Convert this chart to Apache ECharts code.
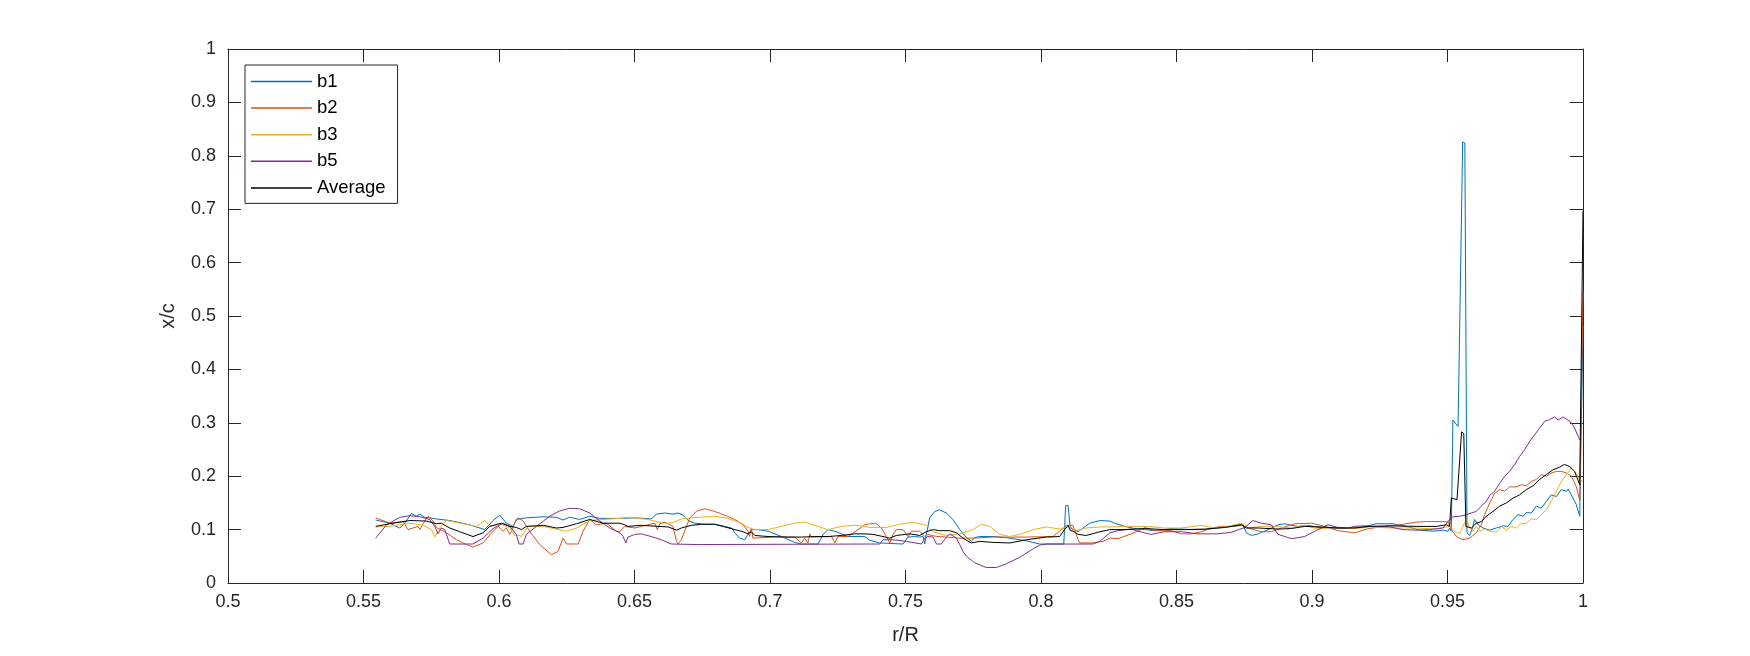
<!DOCTYPE html>
<html>
<head>
<meta charset="utf-8">
<script src="https://cdn.jsdelivr.net/npm/echarts@6/dist/echarts.min.js"></script>
<style>
html,body{margin:0;padding:0;background:#fff;}
#chart{width:1750px;height:656px;}
</style>
</head>
<body>
<div id="chart"></div>
<script>
// ---- data: [r/R, x/c] ----
var seriesNames = ['b1', 'b2', 'b3', 'b5', 'Average'];
var xTicks = [0.5, 0.55, 0.6, 0.65, 0.7, 0.75, 0.8, 0.85, 0.9, 0.95, 1];
var yTicks = [0, 0.1, 0.2, 0.3, 0.4, 0.5, 0.6, 0.7, 0.8, 0.9, 1];

var b1 = [[0.5545,0.118],[0.5597,0.112],[0.5634,0.103],[0.5652,0.112],[0.5677,0.130],[0.5695,0.125],[0.5708,0.129],[0.5726,0.123],[0.5744,0.122],[0.5769,0.120],[0.5818,0.117],[0.5892,0.109],[0.5947,0.100],[0.5978,0.117],[0.6003,0.127],[0.6027,0.112],[0.6052,0.106],[0.6064,0.119],[0.6101,0.122],[0.6163,0.124],[0.6212,0.123],[0.6236,0.118],[0.6261,0.123],[0.6298,0.119],[0.6335,0.125],[0.6372,0.121],[0.6446,0.121],
[0.6501,0.122],[0.6562,0.120],[0.6581,0.129],[0.6612,0.131],[0.6642,0.129],[0.6661,0.131],[0.6679,0.127],[0.6698,0.117],[0.6722,0.112],[0.6759,0.110],[0.6796,0.110],[0.6833,0.106],[0.6858,0.103],[0.6870,0.094],[0.6888,0.084],[0.6907,0.081],[0.6919,0.091],[0.6931,0.100],[0.6956,0.100],[0.6993,0.097],[0.7042,0.087],[0.7091,0.076],[0.7116,0.073],[0.7177,0.073],[0.7196,0.091],[0.7214,0.100],[0.7239,0.097],[0.7263,0.092],[0.7288,0.087],[0.7350,0.087],
[0.7368,0.080],[0.7405,0.075],[0.7491,0.073],[0.7509,0.086],[0.7534,0.087],[0.7552,0.086],[0.7565,0.087],[0.7571,0.073],[0.7577,0.091],[0.7589,0.122],[0.7608,0.134],[0.7626,0.137],[0.7651,0.131],[0.7675,0.119],[0.7700,0.100],[0.7725,0.085],[0.7743,0.078],[0.7755,0.085],[0.7774,0.087],[0.7823,0.087],[0.7872,0.085],[0.7946,0.079],[0.7995,0.073],[0.8084,0.073],[0.8091,0.145],[0.8100,0.145],[0.8108,0.103],[0.8118,0.100],[0.8137,0.096],[0.8155,0.103],[0.8180,0.112],[0.8217,0.117],[0.8254,0.116],
[0.8272,0.112],[0.8309,0.106],[0.8346,0.102],[0.8383,0.100],[0.8420,0.098],[0.8481,0.102],[0.8555,0.100],[0.8604,0.100],[0.8666,0.104],[0.8727,0.107],[0.8745,0.109],[0.8758,0.094],[0.8776,0.089],[0.8801,0.092],[0.8838,0.100],[0.8875,0.109],[0.8899,0.111],[0.8924,0.108],[0.8948,0.106],[0.8985,0.108],[0.9022,0.104],[0.9071,0.103],[0.9121,0.102],[0.9158,0.103],
[0.9188,0.105],[0.9237,0.111],[0.9299,0.111],[0.9348,0.106],[0.9397,0.099],[0.9447,0.097],[0.9483,0.099],[0.9502,0.097],[0.9508,0.103],[0.9514,0.097],[0.9520,0.305],[0.9526,0.306],[0.9539,0.293],[0.9556,0.826],[0.9564,0.824],[0.9572,0.094],[0.9582,0.089],[0.9594,0.106],[0.9600,0.119],[0.9613,0.109],[0.9631,0.103],[0.9656,0.099],[0.9680,0.103],[0.9705,0.107],[0.9723,0.106],[0.9742,0.119],[0.9760,0.128],[0.9779,0.125],[0.9791,0.132],[0.9809,0.131],[0.9828,0.144],[0.9846,0.140],[0.9865,0.153],[0.9883,0.165],[0.9902,0.162],[0.9920,0.175],[0.9939,0.172],[0.9945,0.176],[0.9957,0.165],[0.9975,0.147],[0.9988,0.125],[1.0,0.482]];

var b2 = [[0.5545,0.122],[0.5597,0.112],[0.5646,0.115],[0.5664,0.100],[0.5683,0.103],[0.5701,0.106],[0.5708,0.100],[0.5720,0.111],[0.5738,0.125],[0.5757,0.116],[0.5769,0.104],[0.5806,0.094],[0.5843,0.081],[0.5880,0.072],[0.5904,0.067],[0.5941,0.075],[0.5978,0.097],[0.5997,0.106],[0.6015,0.097],[0.6027,0.103],[0.6040,0.091],[0.6058,0.112],[0.6070,0.122],[0.6089,0.116],[0.6113,0.097],[0.6150,0.072],[0.6193,0.053],[0.6218,0.059],[0.6236,0.084],[0.6249,0.073],[0.6292,0.073],[0.6310,0.097],[0.6335,0.119],[0.6359,0.109],[0.6396,0.112],[0.6433,0.097],[0.6446,0.096],
[0.6464,0.106],[0.6501,0.103],[0.6550,0.109],[0.6575,0.112],[0.6584,0.100],[0.6593,0.111],[0.6612,0.114],[0.6642,0.106],[0.6655,0.078],[0.6661,0.073],[0.6673,0.081],[0.6685,0.097],[0.6704,0.122],[0.6728,0.134],[0.6759,0.139],[0.6796,0.134],[0.6833,0.127],[0.6870,0.119],[0.6901,0.109],[0.6919,0.097],[0.6925,0.087],[0.6931,0.103],[0.6937,0.084],[0.6944,0.086],[0.7017,0.086],[0.7091,0.086],[0.7116,0.075],[0.7128,0.084],[0.7140,0.075],[0.7147,0.092],[0.7153,0.086],[0.7227,0.087],[0.7239,0.075],[0.7251,0.087],[0.7288,0.087],[0.7325,0.100],[0.7350,0.109],
[0.7368,0.111],[0.7393,0.111],[0.7411,0.103],[0.7429,0.087],[0.7442,0.075],[0.7454,0.091],[0.7466,0.100],[0.7491,0.100],[0.7509,0.087],[0.7522,0.097],[0.7552,0.097],[0.7571,0.087],[0.7583,0.091],[0.7595,0.089],[0.7620,0.087],[0.7651,0.086],[0.7700,0.084],[0.7749,0.084],[0.7823,0.086],[0.7946,0.086],[0.8044,0.087],[0.8069,0.097],[0.8094,0.108],[0.8118,0.108],[0.8137,0.081],[0.8143,0.075],[0.8192,0.075],[0.8229,0.078],[0.8254,0.084],
[0.8284,0.083],[0.8333,0.092],[0.8370,0.100],[0.8383,0.104],[0.8420,0.098],[0.8481,0.098],[0.8518,0.092],[0.8555,0.092],[0.8592,0.096],[0.8629,0.103],[0.8666,0.106],[0.8702,0.106],[0.8739,0.111],[0.8764,0.103],[0.8813,0.096],[0.8850,0.096],[0.8887,0.103],[0.8936,0.111],[0.8998,0.112],[0.9047,0.106],[0.9096,0.098],[0.9158,0.094],
[0.9201,0.101],[0.9262,0.106],[0.9324,0.109],[0.9385,0.114],[0.9422,0.115],[0.9483,0.115],[0.9502,0.114],[0.9514,0.100],[0.9533,0.087],[0.9557,0.081],[0.9582,0.084],[0.9606,0.094],[0.9625,0.109],[0.9637,0.128],[0.9656,0.150],[0.9674,0.168],[0.9693,0.175],[0.9711,0.172],[0.9729,0.180],[0.9754,0.180],[0.9773,0.184],[0.9791,0.182],[0.9809,0.190],[0.9828,0.194],[0.9846,0.203],[0.9865,0.200],[0.9883,0.206],[0.9902,0.209],[0.9920,0.209],[0.9939,0.206],[0.9957,0.200],[0.9975,0.181],[0.9988,0.155],[1.0,0.546]];

var b3 = [[0.5545,0.105],[0.5597,0.106],[0.5634,0.109],[0.5671,0.112],[0.5720,0.108],[0.5751,0.100],[0.5763,0.086],[0.5781,0.103],[0.5806,0.117],[0.5867,0.111],[0.5917,0.106],[0.5947,0.117],[0.5966,0.106],[0.6003,0.111],[0.6040,0.103],[0.6058,0.089],[0.6070,0.090],[0.6083,0.087],[0.6107,0.106],[0.6163,0.106],[0.6212,0.101],[0.6249,0.097],[0.6286,0.103],[0.6335,0.117],[0.6384,0.119],[0.6446,0.121],
[0.6476,0.123],[0.6550,0.119],[0.6612,0.111],[0.6648,0.114],[0.6673,0.120],[0.6735,0.123],[0.6796,0.125],[0.6845,0.121],[0.6894,0.112],[0.6919,0.104],[0.6944,0.100],[0.6993,0.100],[0.7042,0.106],[0.7091,0.112],[0.7128,0.114],[0.7177,0.106],[0.7214,0.100],[0.7263,0.106],[0.7313,0.108],[0.7350,0.106],
[0.7368,0.104],[0.7429,0.104],[0.7479,0.110],[0.7528,0.114],[0.7577,0.108],[0.7602,0.096],[0.7651,0.089],[0.7700,0.092],[0.7749,0.100],[0.7780,0.110],[0.7811,0.106],[0.7848,0.091],[0.7885,0.087],[0.7921,0.091],[0.7971,0.100],[0.8020,0.105],[0.8069,0.101],[0.8106,0.106],[0.8130,0.098],[0.8167,0.103],[0.8217,0.105],[0.8254,0.105],
[0.8309,0.106],[0.8395,0.106],[0.8456,0.103],[0.8518,0.103],[0.8592,0.108],[0.8641,0.103],[0.8690,0.106],[0.8739,0.112],[0.8764,0.103],[0.8813,0.106],[0.8862,0.106],[0.8924,0.103],[0.8973,0.108],[0.9022,0.101],[0.9071,0.104],[0.9121,0.103],[0.9158,0.102],
[0.9213,0.105],[0.9287,0.103],[0.9385,0.103],[0.9459,0.101],[0.9508,0.106],[0.9526,0.097],[0.9545,0.092],[0.9557,0.106],[0.9570,0.119],[0.9582,0.103],[0.9594,0.097],[0.9606,0.106],[0.9619,0.097],[0.9637,0.101],[0.9656,0.097],[0.9680,0.095],[0.9699,0.106],[0.9717,0.099],[0.9736,0.106],[0.9754,0.103],[0.9773,0.112],[0.9791,0.111],[0.9809,0.120],[0.9828,0.119],[0.9846,0.128],[0.9865,0.137],[0.9883,0.153],[0.9902,0.172],[0.9920,0.190],[0.9939,0.203],[0.9957,0.215],[0.9969,0.209],[0.9988,0.194],[1.0,0.190]];

var b5 = [[0.5545,0.084],[0.5585,0.109],[0.5634,0.123],[0.5671,0.126],[0.5708,0.124],[0.5744,0.119],[0.5763,0.106],[0.5775,0.092],[0.5787,0.103],[0.5800,0.100],[0.5818,0.073],[0.5904,0.073],[0.5941,0.084],[0.5978,0.102],[0.6015,0.112],[0.6040,0.106],[0.6064,0.091],[0.6074,0.073],[0.6089,0.073],[0.6101,0.091],[0.6138,0.106],[0.6187,0.125],[0.6224,0.135],[0.6261,0.140],[0.6298,0.139],[0.6335,0.131],[0.6372,0.116],[0.6409,0.103],[0.6446,0.094],
[0.6458,0.087],[0.6468,0.075],[0.6476,0.086],[0.6501,0.091],[0.6525,0.092],[0.6562,0.087],[0.6599,0.081],[0.6636,0.073],[0.6735,0.072],[0.7350,0.073],
[0.7405,0.073],[0.7417,0.081],[0.7454,0.081],[0.7503,0.078],[0.7559,0.073],[0.7571,0.084],[0.7583,0.087],[0.7602,0.086],[0.7614,0.073],[0.7632,0.073],[0.7651,0.086],[0.7663,0.092],[0.7688,0.084],[0.7700,0.072],[0.7712,0.059],[0.7725,0.050],[0.7755,0.038],[0.7798,0.029],[0.7835,0.029],[0.7872,0.036],[0.7921,0.048],[0.7971,0.064],[0.7995,0.071],[0.8020,0.073],[0.8192,0.073],[0.8217,0.078],[0.8254,0.094],
[0.8284,0.098],[0.8333,0.101],[0.8358,0.097],[0.8407,0.091],[0.8456,0.096],[0.8518,0.096],[0.8579,0.092],[0.8653,0.092],[0.8702,0.095],[0.8752,0.104],[0.8782,0.117],[0.8813,0.112],[0.8850,0.109],[0.8875,0.091],[0.8924,0.083],[0.8973,0.087],[0.9022,0.100],[0.9059,0.109],[0.9096,0.104],[0.9133,0.103],[0.9158,0.106],
[0.9188,0.107],[0.9237,0.106],[0.9287,0.105],[0.9336,0.100],[0.9385,0.099],[0.9434,0.100],[0.9483,0.103],[0.9508,0.119],[0.9520,0.124],[0.9545,0.125],[0.9570,0.128],[0.9588,0.131],[0.9606,0.134],[0.9625,0.144],[0.9643,0.153],[0.9656,0.164],[0.9674,0.172],[0.9693,0.187],[0.9711,0.200],[0.9729,0.209],[0.9748,0.222],[0.9766,0.237],[0.9785,0.250],[0.9803,0.265],[0.9822,0.278],[0.9840,0.290],[0.9859,0.303],[0.9877,0.306],[0.9895,0.311],[0.9908,0.305],[0.9926,0.311],[0.9945,0.305],[0.9957,0.300],[0.9969,0.290],[0.9988,0.268]];

var avg = [[0.5545,0.106],[0.5597,0.111],[0.5671,0.117],[0.5732,0.116],[0.5769,0.111],[0.5787,0.112],[0.5818,0.103],[0.5855,0.096],[0.5904,0.087],[0.5941,0.094],[0.5966,0.106],[0.6009,0.112],[0.6040,0.106],[0.6064,0.104],[0.6083,0.100],[0.6101,0.106],[0.6163,0.108],[0.6212,0.103],[0.6236,0.104],[0.6286,0.111],[0.6335,0.119],[0.6384,0.112],[0.6446,0.112],
[0.6464,0.109],[0.6476,0.106],[0.6525,0.108],[0.6587,0.106],[0.6624,0.105],[0.6655,0.099],[0.6673,0.103],[0.6710,0.108],[0.6747,0.110],[0.6796,0.110],[0.6833,0.105],[0.6870,0.100],[0.6901,0.096],[0.6919,0.092],[0.6931,0.096],[0.6944,0.089],[0.6993,0.087],[0.7067,0.086],[0.7116,0.086],[0.7165,0.087],[0.7214,0.087],[0.7263,0.089],[0.7313,0.092],[0.7350,0.092],
[0.7380,0.091],[0.7417,0.087],[0.7442,0.084],[0.7466,0.089],[0.7516,0.092],[0.7552,0.089],[0.7577,0.096],[0.7602,0.100],[0.7626,0.098],[0.7663,0.098],[0.7688,0.094],[0.7712,0.084],[0.7743,0.075],[0.7774,0.078],[0.7823,0.076],[0.7885,0.075],[0.7946,0.081],[0.8020,0.086],[0.8069,0.087],[0.8087,0.100],[0.8100,0.108],[0.8108,0.098],[0.8118,0.097],[0.8137,0.091],[0.8167,0.089],[0.8217,0.096],[0.8254,0.100],
[0.8309,0.100],[0.8383,0.102],[0.8456,0.100],[0.8530,0.100],[0.8604,0.101],[0.8678,0.104],[0.8739,0.109],[0.8758,0.103],[0.8801,0.103],[0.8875,0.101],[0.8924,0.102],[0.8973,0.106],[0.9035,0.105],[0.9096,0.103],[0.9158,0.103],
[0.9213,0.106],[0.9287,0.107],[0.9385,0.106],[0.9459,0.106],[0.9496,0.109],[0.9508,0.106],[0.9514,0.159],[0.9535,0.156],[0.9552,0.283],[0.9560,0.280],[0.9568,0.106],[0.9588,0.103],[0.9606,0.112],[0.9625,0.115],[0.9643,0.125],[0.9668,0.134],[0.9693,0.144],[0.9717,0.150],[0.9742,0.159],[0.9766,0.165],[0.9791,0.175],[0.9816,0.182],[0.9840,0.194],[0.9865,0.203],[0.9889,0.212],[0.9914,0.217],[0.9932,0.222],[0.9951,0.218],[0.9969,0.209],[0.9988,0.184],[1.0,0.697]];

var seriesData = [b1, b2, b3, b5, avg];
var colors = ['#0072BD', '#D95319', '#EDB120', '#7E2F8E', '#000000'];

// ---- chart ----
var FONT = '"Liberation Sans", Arial, Helvetica, sans-serif';
var AX = '#262626';
var chart = echarts.init(document.getElementById('chart'), null, {renderer: 'canvas'});

function fmt(v) { return String(Math.round(v * 1000) / 1000); }

var baseX = {
  type: 'value', min: xTicks[0], max: xTicks[xTicks.length - 1],
  interval: xTicks[1] - xTicks[0],
  axisLine: {show: true, onZero: false, lineStyle: {color: AX, width: 1}},
  axisTick: {show: true, inside: true, length: 13, lineStyle: {color: AX, width: 1}},
  splitLine: {show: false}
};
var baseY = {
  type: 'value', min: yTicks[0], max: yTicks[yTicks.length - 1],
  interval: yTicks[1] - yTicks[0],
  axisLine: {show: true, onZero: false, lineStyle: {color: AX, width: 1}},
  axisTick: {show: true, inside: true, length: 13, lineStyle: {color: AX, width: 1}},
  splitLine: {show: false}
};

var option = {
  animation: false,
  backgroundColor: '#ffffff',
  color: colors,
  grid: {left: 228, right: 167, top: 49, bottom: 73, containLabel: false},
  legend: {
    show: true,
    orient: 'vertical',
    left: 245, top: 65,
    data: seriesNames.map(function (n) { return {name: n, icon: 'rect'}; }),
    itemWidth: 61, itemHeight: 1.5,
    itemGap: 7.6,
    padding: [7, 12, 6, 6],
    backgroundColor: '#ffffff',
    borderColor: AX, borderWidth: 1, borderRadius: 0,
    textStyle: {fontFamily: FONT, fontSize: 18.5, color: '#000', lineHeight: 18},
    selectedMode: false
  },
  xAxis: [
    Object.assign({}, baseX, {
      position: 'bottom',
      name: 'r/R', nameLocation: 'middle', nameGap: 42,
      nameTextStyle: {fontFamily: FONT, fontSize: 20, color: AX},
      axisLabel: {show: true, margin: 10, fontFamily: FONT, fontSize: 18, color: AX, formatter: fmt}
    }),
    Object.assign({}, baseX, {position: 'top', axisLabel: {show: false}})
  ],
  yAxis: [
    Object.assign({}, baseY, {
      position: 'left',
      name: 'x/c', nameLocation: 'middle', nameGap: 50,
      nameTextStyle: {fontFamily: FONT, fontSize: 20, color: AX},
      axisLabel: {show: true, margin: 12, fontFamily: FONT, fontSize: 18, color: AX, formatter: fmt}
    }),
    Object.assign({}, baseY, {position: 'right', axisLabel: {show: false}})
  ],
  series: seriesNames.map(function (n, i) {
    return {
      name: n, type: 'line', data: seriesData[i],
      xAxisIndex: 0, yAxisIndex: 0,
      symbol: 'none', smooth: false,
      lineStyle: {width: 1, color: colors[i]},
      itemStyle: {color: colors[i]},
      emphasis: {disabled: true},
      z: 2 + i
    };
  })
};
chart.setOption(option);
</script>
</body>
</html>
